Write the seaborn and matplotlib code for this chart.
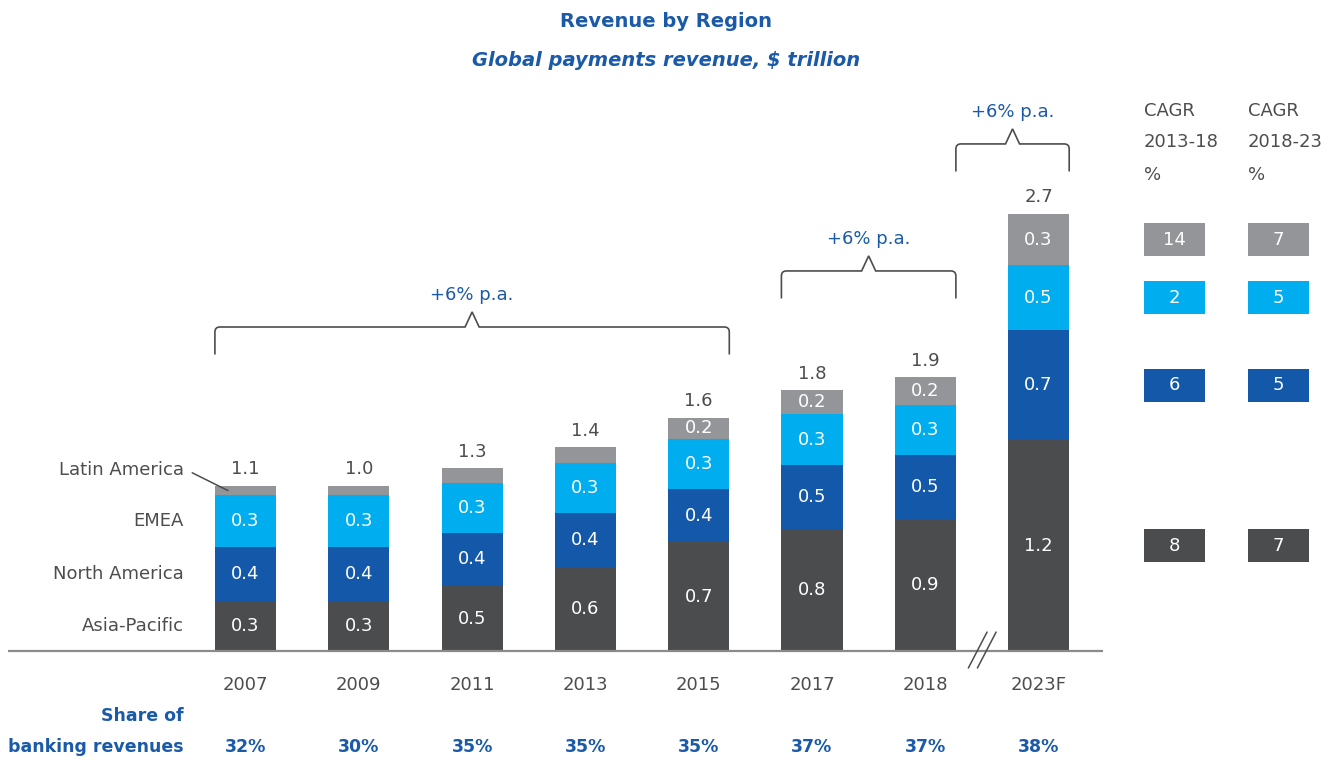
import matplotlib
matplotlib.use('Agg')
import matplotlib.pyplot as plt
from matplotlib.path import Path
from matplotlib.patches import PathPatch
import numpy as np
import pandas as pd
import seaborn as sns

# data (segment heights, $ trillion)
years = ['2007', '2009', '2011', '2013', '2015', '2017', '2018', '2023F']
regions = ['Asia-Pacific', 'North America', 'EMEA', 'Latin America']
asia_pacific = [0.31, 0.31, 0.40, 0.52, 0.67, 0.75, 0.81, 1.30]
north_america = [0.33, 0.33, 0.33, 0.33, 0.33, 0.40, 0.40, 0.68]
emea = [0.32, 0.32, 0.31, 0.31, 0.31, 0.31, 0.31, 0.40]
latin_america = [0.06, 0.06, 0.09, 0.10, 0.13, 0.15, 0.17, 0.32]

# printed labels
ap_labels = ['0.3', '0.3', '0.5', '0.6', '0.7', '0.8', '0.9', '1.2']
na_labels = ['0.4', '0.4', '0.4', '0.4', '0.4', '0.5', '0.5', '0.7']
emea_labels = ['0.3', '0.3', '0.3', '0.3', '0.3', '0.3', '0.3', '0.5']
la_labels = ['', '', '', '', '0.2', '0.2', '0.2', '0.3']
total_labels = ['1.1', '1.0', '1.3', '1.4', '1.6', '1.8', '1.9', '2.7']
share_of_banking = ['32%', '30%', '35%', '35%', '35%', '37%', '37%', '38%']

# CAGR columns, order: Asia-Pacific, North America, EMEA, Latin America
cagr_13_18 = [8, 6, 2, 14]
cagr_18_23 = [7, 5, 5, 7]

colors = ['#4b4c4e', '#1459a9', '#00aeef', '#939598']
GRAY_TXT = '#4d4d4f'
BLUE_TXT = '#1a5aa8'
BAR_W = 0.54
FS = 13
FS_B = 12.5

sns.set_theme(style='white')
plt.rcParams['font.family'] = ['DejaVu Sans']

segments = [asia_pacific, north_america, emea, latin_america]
seg_labels = [ap_labels, na_labels, emea_labels, la_labels]
heights = np.array(segments)
tops = np.cumsum(heights, axis=0)
bottoms = tops - heights

df = pd.DataFrame({
    'year': np.tile(years, len(regions)),
    'region': np.repeat(regions, len(years)),
    'top': tops.ravel(),
})

fig = plt.figure(figsize=(13.41, 7.6), dpi=100)
ax = fig.add_axes([0, 0, 1, 1])

# stacked bars: draw cumulative tops, tallest first
for i in reversed(range(len(regions))):
    sns.barplot(data=df[df['region'] == regions[i]], x='year', y='top', order=years,
                color=colors[i], width=BAR_W, saturation=1, errorbar=None,
                linewidth=0, ax=ax)

xs = np.arange(len(years))

# labels inside segments
for i in range(len(regions)):
    for j, x in enumerate(xs):
        if seg_labels[i][j]:
            ax.text(x, bottoms[i, j] + heights[i, j] / 2, seg_labels[i][j],
                    ha='center', va='center', color='white', fontsize=FS)

# totals above bars
for j, x in enumerate(xs):
    ax.text(x, tops[-1, j] + 0.045, total_labels[j], ha='center', va='bottom',
            color=GRAY_TXT, fontsize=FS)

# baseline
ax.plot([-2.1, 7.57], [0, 0], color='#8a8a8a', lw=1.6, solid_capstyle='butt', zorder=3)
# axis break marks
for dx in (0, 0.08):
    ax.plot([6.38 + dx, 6.545 + dx], [-0.105, 0.117], color=GRAY_TXT, lw=1.1, zorder=4)

# year labels and share row
for j, x in enumerate(xs):
    ax.text(x, -0.21, years[j], ha='center', va='center', color=GRAY_TXT, fontsize=FS)
    ax.text(x, -0.593, share_of_banking[j], ha='center', va='center', color=BLUE_TXT,
            fontsize=FS_B, fontweight='bold')
ax.text(-0.543, -0.40, 'Share of', ha='right', va='center', color=BLUE_TXT,
        fontsize=FS_B, fontweight='bold')
ax.text(-0.543, -0.593, 'banking revenues', ha='right', va='center', color=BLUE_TXT,
        fontsize=FS_B, fontweight='bold')

# region names next to first bar
for i in range(3):
    ax.text(-0.543, bottoms[i, 0] + heights[i, 0] / 2, regions[i], ha='right',
            va='center', color=GRAY_TXT, fontsize=FS)
ax.text(-0.543, tops[-1, 0] + 0.1, regions[3], ha='right', va='center',
        color=GRAY_TXT, fontsize=FS)
ax.plot([-0.47, -0.154], [tops[-1, 0] + 0.08, bottoms[3, 0] + heights[3, 0] / 2],
        color=GRAY_TXT, lw=1.1)


def brace(x0, x1, y, label):
    leg, rx, ry, hw, ph = 0.17, 0.044, 0.031, 0.062, 0.093
    xm = (x0 + x1) / 2
    verts = [(x0, y - leg), (x0, y - ry), (x0, y), (x0 + rx, y), (xm - hw, y),
             (xm, y + ph), (xm + hw, y), (x1 - rx, y), (x1, y), (x1, y - ry),
             (x1, y - leg)]
    codes = [Path.MOVETO, Path.LINETO, Path.CURVE3, Path.CURVE3, Path.LINETO,
             Path.LINETO, Path.LINETO, Path.LINETO, Path.CURVE3, Path.CURVE3,
             Path.LINETO]
    ax.add_patch(PathPatch(Path(verts, codes), fill=False, edgecolor=GRAY_TXT, lw=1.2))
    ax.text(xm, y + 0.2, label, ha='center', va='center', color=BLUE_TXT, fontsize=FS)


h = BAR_W / 2
brace(0 - h, 4 + h, 2.0, '+6% p.a.')
brace(5 - h, 6 + h, 2.346, '+6% p.a.')
brace(6 + h, 7 + h, 3.13, '+6% p.a.')

# CAGR columns
box_h = 0.204
last_mid = bottoms[:, -1] + heights[:, -1] / 2
for col_x, head, vals in [(7.93, '2013-18', cagr_13_18), (8.848, '2018-23', cagr_18_23)]:
    for k, line in enumerate(['CAGR', head, '%']):
        ax.text(col_x, [3.333, 3.142, 2.938][k], line, ha='left', va='center',
                color=GRAY_TXT, fontsize=FS)
    cx = col_x + h
    ax.bar([cx] * 4, [box_h] * 4, bottom=last_mid - box_h / 2, width=BAR_W,
           color=colors, linewidth=0)
    for m, v in zip(last_mid, vals):
        ax.text(cx, m, str(v), ha='center', va='center', color='white', fontsize=FS)

# titles
fig.text(0.4966, 0.972, 'Revenue by Region', ha='center', va='center',
         color=BLUE_TXT, fontsize=14, fontweight='bold')
fig.text(0.497, 0.92, 'Global payments revenue, $ trillion', ha='center', va='center',
         color=BLUE_TXT, fontsize=14, fontweight='bold', fontstyle='italic')

ax.set_xlim(-245.5 / 113.3, (1341 - 245.5) / 113.3)
ax.set_ylim(-109 / 162, 651 / 162)
ax.axis('off')

fig.savefig('out.png', dpi=100)
